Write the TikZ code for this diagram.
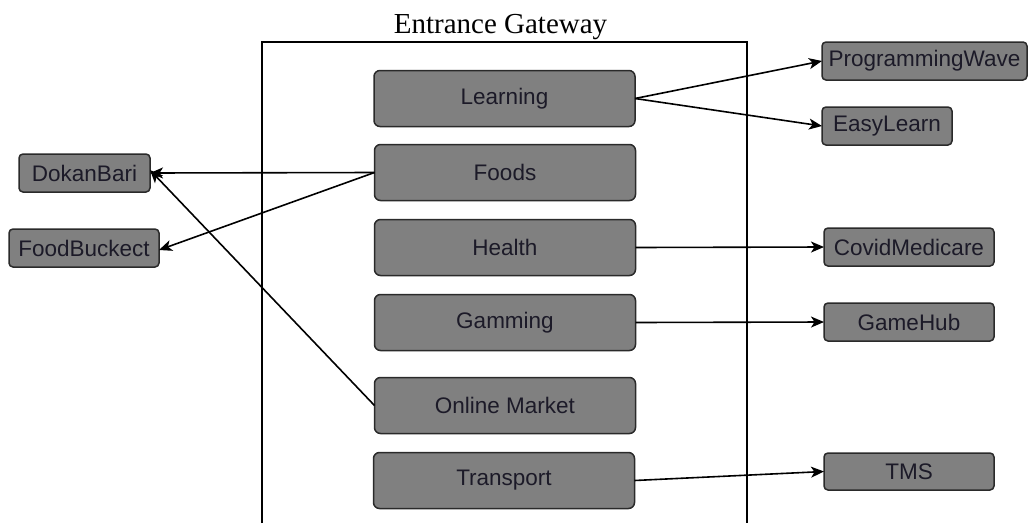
\documentclass[tikz,border=0pt]{standalone}
\usepackage{fontspec}
\setmainfont{Liberation Sans}
\newfontfamily\titlefont{Liberation Serif}
\usetikzlibrary{arrows.meta}
\definecolor{boxfill}{HTML}{808080}
\definecolor{boxline}{HTML}{2A2A2A}
\definecolor{boxtext}{HTML}{1C1A28}
\tikzset{
  svc/.style={draw=boxline, fill=boxfill, line width=1.5pt, rounded corners=6pt,
    inner sep=0pt, outer sep=0pt, text=boxtext, font=\fontsize{22.5}{25}\selectfont,
    minimum height=56pt, minimum width=261pt},
  app/.style={svc, minimum height=38pt, rounded corners=4pt},
  link/.style={draw=black, line width=1.6pt, -{Stealth[length=13pt,width=11pt,inset=3.5pt]}},
  frame/.style={draw=black, line width=1.3pt}
}
\begin{document}
\begin{tikzpicture}[x=1pt,y=-1pt]
\useasboundingbox[fill=white] (0,0) rectangle (1029,523);
\node[anchor=base, font=\titlefont\fontsize{29}{31}\selectfont] (title) at (500.5,33) {Entrance Gateway};
\draw[frame] (262,523) -- (262,42) -- (747,42) -- (747,523);

\node[svc] (learning) at (504.5,98.5) {Learning};
\node[svc] (foods) at (505,172.5) {Foods};
\node[svc] (health) at (505,247.5) {Health};
\node[svc] (gamming) at (505,322.5) {Gamming};
\node[svc] (market) at (505,405.5) {Online Market};
\node[svc] (transport) at (504,480.5) {Transport};

\node[app, minimum width=205pt] (pw) at (924.5,61) {ProgrammingWave};
\node[app, minimum width=130pt] (easy) at (887,126) {EasyLearn};
\node[app, minimum width=170pt] (covid) at (909,247) {CovidMedicare};
\node[app, minimum width=170pt] (gamehub) at (909,322) {GameHub};
\node[app, minimum width=170pt, minimum height=37pt] (tms) at (909,471.5) {TMS};
\node[app, minimum width=131pt] (dokan) at (84.5,173) {DokanBari};
\node[app, minimum width=150pt] (bucket) at (84,248) {FoodBuckect};

\draw[link] (learning.east) -- (pw.west);
\draw[link] (learning.east) -- (easy.west);
\draw[link] (foods.west) -- (dokan.east);
\draw[link] (foods.west) -- ([yshift=-2pt]bucket.east);
\draw[link] (health.east) -- (covid.west);
\draw[link] (gamming.east) -- (gamehub.west);
\draw[link] (market.west) -- ([yshift=3pt]dokan.east);
\draw[link] (transport.east) -- (tms.west);
\end{tikzpicture}
\end{document}
